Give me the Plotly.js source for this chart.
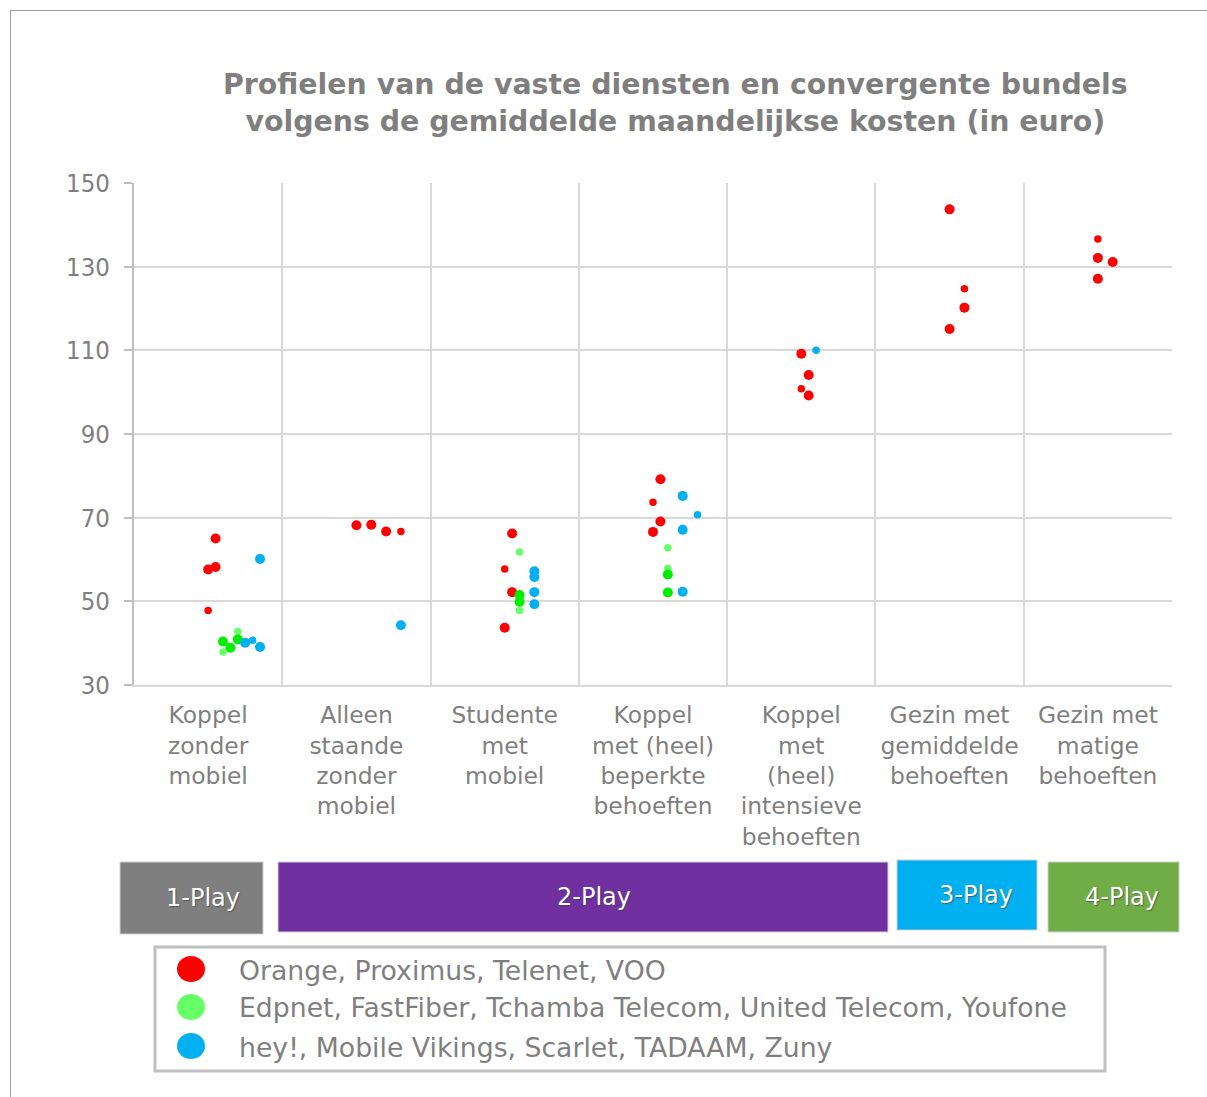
<!DOCTYPE html>
<html>
<head>
<meta charset="utf-8">
<script src="https://cdn.plot.ly/plotly-3.0.1.min.js"></script>
<style>
  html, body { margin: 0; padding: 0; background: #ffffff; }
  #wrap { position: relative; width: 1207px; height: 1097px; }
  #chart { width: 1207px; height: 1097px; }
  #frameTop { position: absolute; left: 10px; top: 10px; width: 1197px; height: 0; border-top: 1px solid #9a9a9a; }
  #frameLeft { position: absolute; left: 10px; top: 10px; width: 0; height: 1087px; border-left: 1px solid #9a9a9a; }
</style>
</head>
<body>
<div id="wrap">
  <div id="chart"></div>
  <div id="frameTop"></div>
  <div id="frameLeft"></div>
</div>
<script>
// ---------- DATA ----------
const categoryLabels = [
  "Koppel<br>zonder<br>mobiel",
  "Alleen<br>staande<br>zonder<br>mobiel",
  "Studente<br>met<br>mobiel",
  "Koppel<br>met (heel)<br>beperkte<br>behoeften",
  "Koppel<br>met<br>(heel)<br>intensieve<br>behoeften",
  "Gezin met<br>gemiddelde<br>behoeften",
  "Gezin met<br>matige<br>behoeften"
];
const yTickValues = [30, 50, 70, 90, 110, 130, 150];

const seriesNames = [
  "Orange, Proximus, Telenet, VOO",
  "Edpnet, FastFiber, Tchamba Telecom, United Telecom, Youfone",
  "hey!, Mobile Vikings, Scarlet, TADAAM, Zuny"
];

// Positions on the category axis (category index + jitter) and monthly cost (euro)
const redMainX   = [0.05, 0.00, 0.05, 1.00, 1.10, 1.20, 2.05, 2.05, 2.00, 3.05, 3.05, 3.00, 4.00, 4.05, 4.05, 5.00, 5.10, 5.00, 6.00, 6.10, 6.00];
const redMainY   = [65.0, 57.6, 58.2, 68.2, 68.3, 66.7, 66.2, 52.2, 43.7, 79.2, 69.1, 66.6, 109.2, 104.1, 99.2, 143.7, 120.2, 115.1, 132.1, 131.1, 127.1];
const redMinorX  = [0.00, 1.30, 2.00, 3.00, 4.00, 5.10, 6.00];
const redMinorY  = [47.8, 66.7, 57.7, 73.7, 100.8, 124.7, 136.6];

const greenMainX  = [0.10, 0.20, 0.15, 2.10, 2.10, 3.10, 3.10];
const greenMainY  = [40.4, 40.9, 38.9, 51.5, 49.9, 56.4, 52.1];
const greenMinorX = [0.20, 0.10, 2.10, 2.10, 3.10, 3.10];
const greenMinorY = [42.8, 37.9, 61.8, 47.8, 62.8, 57.9];

const blueMainX  = [0.35, 0.25, 0.35, 1.30, 2.20, 2.20, 2.20, 2.20, 3.20, 3.20, 3.20];
const blueMainY  = [60.1, 40.1, 39.1, 44.3, 57.2, 55.8, 52.2, 49.3, 75.2, 67.1, 52.3];
const blueMinorX = [0.30, 3.30, 4.10];
const blueMinorY = [40.7, 70.7, 110.0];

const playLabels = ["1-Play", "2-Play", "3-Play", "4-Play"];

// ---------- STYLE / LAYOUT ----------
const FONT_C = '"DejaVu Sans Condensed", "DejaVu Sans", Verdana, sans-serif';
const FONT = '"DejaVu Sans", Verdana, sans-serif';
const GRAY = '#7f7f7f';
const RED = '#ff0000', GREEN = '#00ee00', LGREEN = '#66ff66', BLUE = '#00b0f0';
const BIG = 10, SMALL = 7.5;

const W = 1207, H = 1097;
const L = 134, R = 1172, T = 183, B = 685;
const px = v => (v - L) / (R - L);
const py = v => (B - v) / (B - T);

function trace(x, y, color, size) {
  return { type: 'scatter', mode: 'markers', x: x, y: y, showlegend: false,
           hoverinfo: 'y', marker: { color: color, size: size, line: { width: 0 } } };
}

const data = [
  trace(redMinorX, redMinorY, RED, SMALL),
  trace(redMainX, redMainY, RED, BIG),
  trace(greenMinorX, greenMinorY, LGREEN, SMALL),
  trace(greenMainX, greenMainY, GREEN, BIG),
  trace(blueMinorX, blueMinorY, BLUE, SMALL),
  trace(blueMainX, blueMainY, BLUE, BIG)
];

// play band boxes (pixel geometry)
const playBoxes = [
  { x0: 120, x1: 263, y0: 862, y1: 934, fill: '#7f7f7f', tx: 203, ty: 898 },
  { x0: 278, x1: 888, y0: 862, y1: 932, fill: '#7030a0', tx: 594, ty: 897 },
  { x0: 897, x1: 1037, y0: 860, y1: 930, fill: '#00b0f0', tx: 976, ty: 895 },
  { x0: 1048, x1: 1179, y0: 862, y1: 932, fill: '#70ad47', tx: 1122, ty: 897 }
];

const shapes = [];
const annotations = [];

playBoxes.forEach((b, i) => {
  shapes.push({ type: 'rect', xref: 'paper', yref: 'paper', layer: 'above',
    x0: px(b.x0), x1: px(b.x1), y0: py(b.y1), y1: py(b.y0),
    fillcolor: b.fill, line: { color: '#d0d0d0', width: 1 } });
  annotations.push({ xref: 'paper', yref: 'paper', x: px(b.tx), y: py(b.ty),
    xanchor: 'center', yanchor: 'middle', showarrow: false, text: playLabels[i],
    font: { family: FONT, size: 24, color: '#ffffff', shadow: '1px 1px 1px rgba(60,60,60,0.6)' } });
});

// legend box
shapes.push({ type: 'rect', xref: 'paper', yref: 'paper', layer: 'above',
  x0: px(155), x1: px(1105), y0: py(1071), y1: py(947),
  fillcolor: '#ffffff', line: { color: '#bfbfbf', width: 3 } });
const legendColors = [RED, LGREEN, BLUE];
const legendY = [969, 1007, 1046];
seriesNames.forEach((name, i) => {
  shapes.push({ type: 'circle', xref: 'paper', yref: 'paper', layer: 'above',
    x0: px(177), x1: px(205), y0: py(legendY[i] + 13), y1: py(legendY[i] - 13),
    fillcolor: legendColors[i], line: { width: 0 } });
  annotations.push({ xref: 'paper', yref: 'paper', x: px(237), y: py(legendY[i] + 1),
    xanchor: 'left', yanchor: 'middle', showarrow: false, text: name,
    font: { family: FONT, size: 26.7, color: GRAY } });
});

// title
annotations.push({ xref: 'paper', yref: 'paper', x: px(675), y: py(103),
  xanchor: 'center', yanchor: 'middle', showarrow: false,
  text: '<b>Profielen van de vaste diensten en convergente bundels<br>volgens de gemiddelde maandelijkse kosten (in euro)</b>',
  font: { family: FONT, size: 28.4, color: GRAY } });

const layout = {
  width: W, height: H,
  margin: { l: L, r: W - R, t: T, b: H - B, pad: 0 },
  paper_bgcolor: '#ffffff', plot_bgcolor: '#ffffff',
  showlegend: false,
  xaxis: {
    range: [-0.5, 6.5], tickmode: 'array',
    tickvals: categoryLabels.map((_, i) => i), ticktext: categoryLabels,
    ticks: '', showgrid: false, zeroline: false,
    showline: true, linecolor: '#d9d9d9', linewidth: 2,
    tickfont: { family: FONT, size: 23.4, color: GRAY },
    ticklabelstandoff: 8,
    minor: { tick0: 0.5, dtick: 1, showgrid: true, gridcolor: '#d9d9d9', gridwidth: 2, ticks: '' },
    fixedrange: true
  },
  yaxis: {
    range: [30, 150], tickmode: 'array', tickvals: yTickValues,
    ticks: 'outside', ticklen: 8, tickcolor: '#bfbfbf', tickwidth: 2,
    showline: true, linecolor: '#bfbfbf', linewidth: 2,
    showgrid: true, gridcolor: '#d9d9d9', gridwidth: 2, zeroline: false,
    tickfont: { family: FONT_C, size: 25.5, color: GRAY },
    ticklabelstandoff: 9,
    fixedrange: true
  },
  shapes: shapes,
  annotations: annotations
};

Plotly.newPlot('chart', data, layout, { displayModeBar: false, staticPlot: true });
</script>
</body>
</html>
